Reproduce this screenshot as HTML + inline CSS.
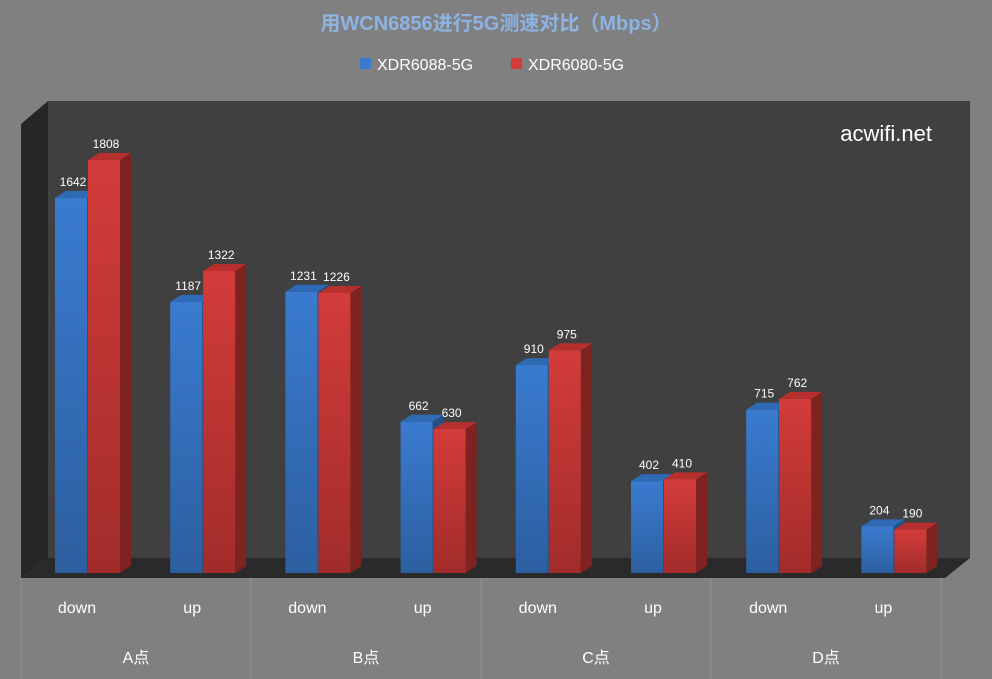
<!DOCTYPE html>
<html><head><meta charset="utf-8"><style>
body{margin:0;background:#808080;}
svg{display:block;font-family:"Liberation Sans","Noto Sans CJK SC",sans-serif;}
</style></head><body>
<svg id="c" width="992" height="679" viewBox="0 0 992 679">
<defs>
<linearGradient id="gb" x1="0" y1="0" x2="0" y2="1"><stop offset="0" stop-color="#3a7bd0"/><stop offset="1" stop-color="#2c5f9f"/></linearGradient>
<linearGradient id="gr" x1="0" y1="0" x2="0" y2="1"><stop offset="0" stop-color="#d33c3a"/><stop offset="1" stop-color="#a12c2a"/></linearGradient>
</defs>
<rect width="992" height="679" fill="#808080"/>
<text x="496" y="30" text-anchor="middle" font-size="20" font-weight="bold" fill="#8db3e2">用WCN6856进行5G测速对比（Mbps）</text>
<g>
<g><rect x="360" y="58" width="11" height="11" fill="#3a7bd0"/><text x="377" y="70" font-size="16" fill="#fff">XDR6088-5G</text></g>
<g><rect x="511" y="58" width="11" height="11" fill="#d33c3a"/><text x="528" y="70" font-size="16" fill="#fff">XDR6080-5G</text></g>
</g>
<polygon points="48,101 970,101 970,558 48,558" fill="#404040"/>
<polygon points="21,124 48,101 48,558 21,578" fill="#262626"/>
<polygon points="21,578 48,558 970,558 945,578" fill="#2a2a2a"/>
<text x="932" y="141" text-anchor="end" font-size="22" fill="#fff">acwifi.net</text>
<g id="bars"></g>
<g id="axis"></g>
</svg>
<script>
const groups=["A点","B点","C点","D点"];
const subcats=["down","up","down","up","down","up","down","up"];
const seriesA=[1642,1187,1231,662,910,402,715,204];
const seriesB=[1808,1322,1226,630,975,410,762,190];
const NS="http://www.w3.org/2000/svg";
const base=573, scale=413/1808, x0=55, step=115.2, bw=32, dx=11, dy=7;
const y=v=>base-v*scale;
const xc=i=>x0+i*step;
function mk(t,a,p){const e=document.createElementNS(NS,t);for(const k in a)e.setAttribute(k,a[k]);p.appendChild(e);return e;}
const bars=document.getElementById('bars');
[[seriesA,'url(#gb)','#2f6ab5','#24508a','blue',0],[seriesB,'url(#gr)','#b8302e','#7e2322','red',1]].forEach(([s,f,top,side,nm,o])=>{
 s.forEach((v,i)=>{
  const x=xc(i)+o*(bw+1), yt=y(v);
  const g=mk('g',{},bars);
  
  
  mk('polygon',{points:`${x+bw},${yt} ${x+bw+dx},${yt-dy} ${x+bw+dx},${base-dy} ${x+bw},${base}`,fill:side},g);
  mk('polygon',{points:`${x},${yt} ${x+dx},${yt-dy} ${x+bw+dx},${yt-dy} ${x+bw},${yt}`,fill:top},g);
  mk('rect',{x:x,y:yt,width:bw,height:base-yt,fill:f},g);
  const t=mk('text',{x:x+bw/2+2,y:yt-12,'text-anchor':'middle','font-size':12,fill:'#fff'},bars);
  
  
  t.textContent=v;
 });
});
const ax=document.getElementById('axis');
for(let k=0;k<=groups.length;k++){const l=mk('line',{x1:21+k*230,y1:578,x2:21+k*230,y2:679,stroke:'#929292'},ax);
 }
subcats.forEach((c,i)=>{const t=mk('text',{x:xc(i)+22,y:613,'text-anchor':'middle','font-size':16,fill:'#fff'},ax);
 t.textContent=c;});
groups.forEach((g,k)=>{const t=mk('text',{x:136+k*230,y:663,'text-anchor':'middle','font-size':16,fill:'#fff'},ax);
 t.textContent=g;});
</script>
</body></html>
